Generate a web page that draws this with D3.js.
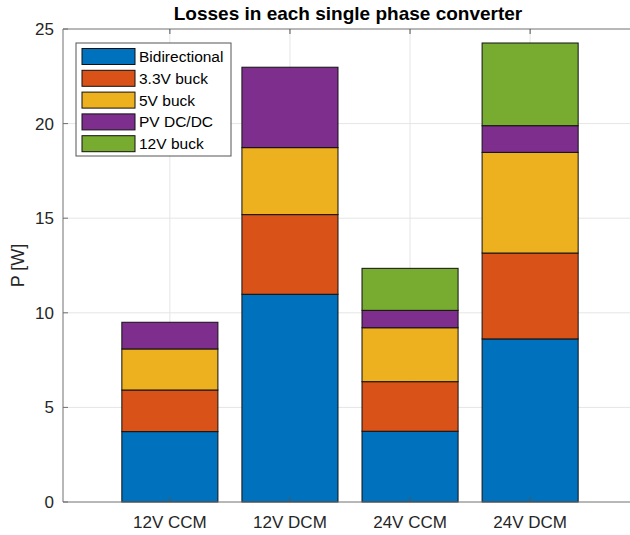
<!DOCTYPE html>
<html>
<head>
<meta charset="utf-8">
<script src="https://cdn.jsdelivr.net/npm/d3@7"></script>
<style>
  body { margin: 0; background: #fff; }
  svg { font-family: "Liberation Sans", Arial, Helvetica, sans-serif; }
</style>
</head>
<body>
<div id="chart"></div>
<script>
let categories = ['12V CCM', '12V DCM', '24V CCM', '24V DCM'];
let seriesNames = ['Bidirectional', '3.3V buck', '5V buck', 'PV DC/DC', '12V buck'];
let seriesColors = ['#0072BD', '#D95319', '#EDB120', '#7E2F8E', '#77AC30'];

let bidirectional = [3.72, 10.98, 3.74, 8.62];
let buck33 = [2.20, 4.21, 2.62, 4.54];
let buck5 = [2.17, 3.54, 2.85, 5.32];
let pvDcDc = [1.41, 4.25, 0.92, 1.41];
let buck12 = [0, 0, 2.22, 4.37];

let yTicks = [0, 5, 10, 15, 20, 25];

let width = 630,
    height = 535,
    margin = {left: 63, top: 29, bottom: 33, right: 0},
    plotBottom = height - margin.bottom;

let rows = categories.map((c, i) => ({
    cat: c,
    idx: i + 1,
    'Bidirectional': bidirectional[i],
    '3.3V buck': buck33[i],
    '5V buck': buck5[i],
    'PV DC/DC': pvDcDc[i],
    '12V buck': buck12[i]
}));

let stacked = d3.stack().keys(seriesNames)(rows);

let svg = d3.select('#chart').append('svg')
    .attr('width', width)
    .attr('height', height);

// x in MATLAB-like bar units, axes continue past the right edge of the picture
let xScale = d3.scaleLinear()
    .domain([0.11, 4.89])
    .range([margin.left, 637]);

let yScale = d3.scaleLinear()
    .domain([0, 25])
    .range([plotBottom, margin.top]);

let barWidth = 0.8;

// grid
let grid_g = svg.append('g').attr('class', 'grid');
grid_g.selectAll('.hgrid')
    .data(yTicks.slice(1, -1))
    .enter().append('line')
    .attr('x1', xScale(0.11)).attr('x2', width)
    .attr('y1', d => yScale(d)).attr('y2', d => yScale(d))
    .attr('stroke', '#e5e5e5').attr('stroke-width', 1);
grid_g.selectAll('.vgrid')
    .data(rows)
    .enter().append('line')
    .attr('x1', d => xScale(d.idx)).attr('x2', d => xScale(d.idx))
    .attr('y1', yScale(25)).attr('y2', yScale(0))
    .attr('stroke', '#e5e5e5').attr('stroke-width', 1);

// bars
let bar_g = svg.append('g').attr('class', 'bars');
bar_g.selectAll('.series')
    .data(stacked)
    .enter().append('g')
    .attr('fill', (d, i) => seriesColors[i])
    .selectAll('rect')
    .data(d => d.filter(s => s[1] - s[0] > 0))
    .enter().append('rect')
    .attr('x', d => xScale(d.data.idx - barWidth / 2))
    .attr('width', d => xScale(d.data.idx + barWidth / 2) - xScale(d.data.idx - barWidth / 2))
    .attr('y', d => yScale(d[1]))
    .attr('height', d => yScale(d[0]) - yScale(d[1]))
    .attr('stroke', '#111')
    .attr('stroke-width', 1);

// axes box (left, top, bottom)
let axis_g = svg.append('g').attr('class', 'axes');
axis_g.append('path')
    .attr('d', `M${width},${yScale(25)}H${xScale(0.11)}V${yScale(0)}H${width}`)
    .attr('fill', 'none')
    .attr('stroke', '#707070')
    .attr('stroke-width', 1);

// ticks (inward)
axis_g.selectAll('.ytick')
    .data(yTicks)
    .enter().append('line')
    .attr('x1', xScale(0.11)).attr('x2', xScale(0.11) + 5)
    .attr('y1', d => yScale(d)).attr('y2', d => yScale(d))
    .attr('stroke', '#707070');
axis_g.selectAll('.xtick')
    .data(rows)
    .enter().append('line')
    .attr('x1', d => xScale(d.idx)).attr('x2', d => xScale(d.idx))
    .attr('y1', yScale(0)).attr('y2', yScale(0) - 5)
    .attr('stroke', '#555');
axis_g.selectAll('.xtickTop')
    .data(rows)
    .enter().append('line')
    .attr('x1', d => xScale(d.idx)).attr('x2', d => xScale(d.idx))
    .attr('y1', yScale(25)).attr('y2', yScale(25) + 5)
    .attr('stroke', '#555');

// tick labels
axis_g.selectAll('.ylabel')
    .data(yTicks)
    .enter().append('text')
    .attr('x', xScale(0.11) - 9)
    .attr('y', d => yScale(d))
    .attr('dy', '0.35em')
    .attr('text-anchor', 'end')
    .attr('font-size', 17)
    .attr('fill', '#262626')
    .text(d => d);
axis_g.selectAll('.xlabel')
    .data(rows)
    .enter().append('text')
    .attr('x', d => xScale(d.idx))
    .attr('y', yScale(0) + 26)
    .attr('text-anchor', 'middle')
    .attr('font-size', 17)
    .attr('fill', '#262626')
    .text(d => d.cat);

// y label
svg.append('text')
    .attr('transform', `translate(24, ${(yScale(0) + yScale(25)) / 2}) rotate(-90)`)
    .attr('text-anchor', 'middle')
    .attr('font-size', 18)
    .attr('fill', '#262626')
    .text('P [W]');

// title
svg.append('text')
    .attr('x', 348)
    .attr('y', 20)
    .attr('text-anchor', 'middle')
    .attr('font-size', 19)
    .attr('font-weight', 'bold')
    .attr('fill', '#000')
    .text('Losses in each single phase converter');

// legend
let legend_g = svg.append('g').attr('class', 'legend')
    .attr('transform', 'translate(76, 43)');
legend_g.append('rect')
    .attr('width', 155).attr('height', 113)
    .attr('fill', '#fff')
    .attr('stroke', '#555')
    .attr('stroke-width', 1);
let item = legend_g.selectAll('.item')
    .data(seriesNames)
    .enter().append('g')
    .attr('transform', (d, i) => `translate(6, ${5.5 + i * 21.8})`);
item.append('rect')
    .attr('width', 53).attr('height', 16)
    .attr('fill', (d, i) => seriesColors[i])
    .attr('stroke', '#111');
item.append('text')
    .attr('x', 57)
    .attr('y', 8)
    .attr('dy', '0.36em')
    .attr('font-size', 15.5)
    .attr('fill', '#000')
    .text(d => d);
</script>
</body>
</html>
